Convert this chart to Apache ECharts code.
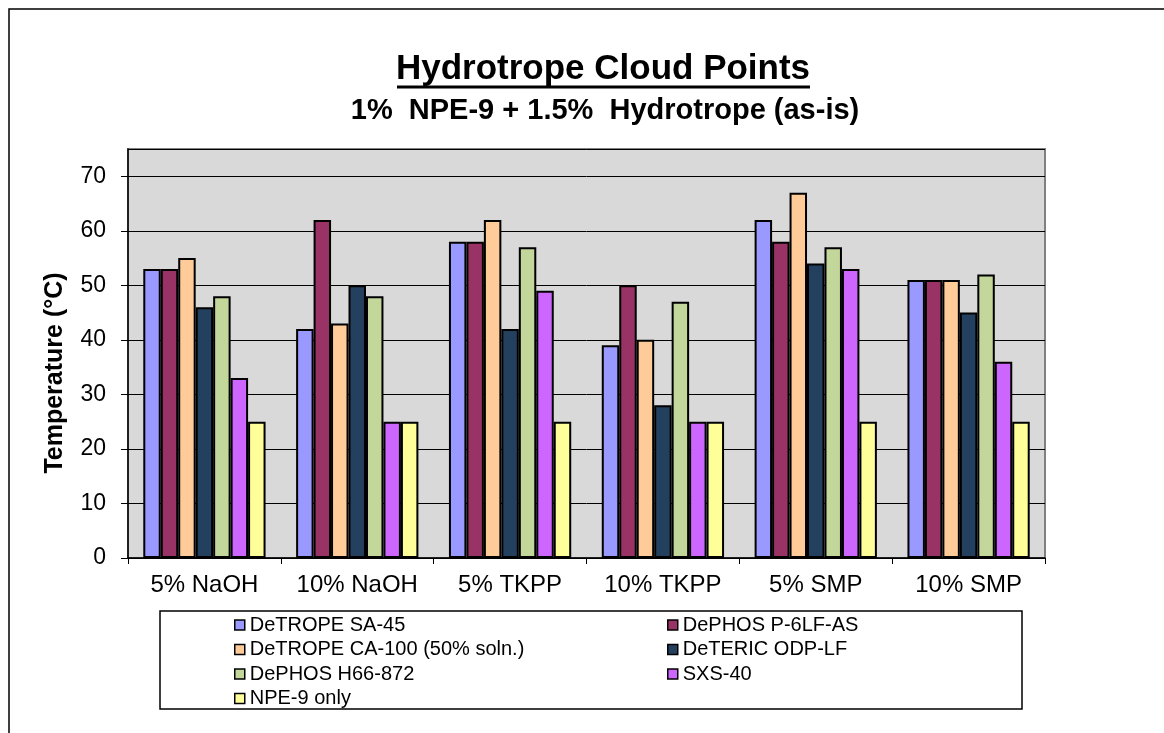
<!DOCTYPE html>
<html>
<head>
<meta charset="utf-8">
<script src="https://cdn.jsdelivr.net/npm/echarts@6/dist/echarts.min.js"></script>
<style>
  html, body { margin: 0; padding: 0; background: #fff; }
  #chart { width: 1164px; height: 733px; }
</style>
</head>
<body>
<div id="chart"></div>
<script>
var categories = ['5% NaOH', '10% NaOH', '5% TKPP', '10% TKPP', '5% SMP', '10% SMP'];

var seriesNames = ['DeTROPE SA-45', 'DePHOS P-6LF-AS', 'DeTROPE CA-100 (50% soln.)', 'DeTERIC ODP-LF',
                   'DePHOS H66-872', 'SXS-40', 'NPE-9 only'];

var sa45    = [53, 42, 58, 39, 62, 51];
var p6lf    = [53, 62, 58, 50, 58, 51];
var ca100   = [55, 43, 62, 40, 67, 51];
var odp     = [46, 50, 42, 28, 54, 45];
var h66     = [48, 48, 57, 47, 57, 52];
var sxs40   = [33, 25, 49, 25, 53, 36];
var npe9    = [25, 25, 25, 25, 25, 25];

var colors = ['#9999ff', '#993366', '#ffcc99', '#24405f', '#c4d79b', '#cc66ff', '#ffff99'];
var values = [sa45, p6lf, ca100, odp, h66, sxs40, npe9];

var series = [];
for (var i = 0; i < values.length; i++) {
  series.push({
    name: seriesNames[i],
    type: 'bar',
    data: values[i],
    barGap: 0,
    barCategoryGap: '20%',
    itemStyle: { color: colors[i], borderColor: '#000', borderWidth: 2 }
  });
}

var font = '"Liberation Sans", Arial, sans-serif';

// legend, two columns
var legendText = { fontFamily: font, fontSize: 20, color: '#000', lineHeight: 24 };
var legendCommon = {
  orient: 'vertical', top: 613, padding: 0, itemWidth: 10, itemHeight: 10, itemGap: 0.5,
  icon: 'rect', textStyle: legendText,
  itemStyle: { borderColor: '#000', borderWidth: 1.5 }
};

var option = {
  animation: false,
  color: colors,
  textStyle: { fontFamily: font },
  grid: {
    left: 128, top: 149, right: 119, bottom: 175,
    show: true, backgroundColor: '#d9d9d9', borderColor: '#808080', borderWidth: 2
  },
  legend: [
    Object.assign({ left: 234, data: [seriesNames[0], seriesNames[2], seriesNames[4], seriesNames[6]] }, legendCommon),
    Object.assign({ left: 667, data: [seriesNames[1], seriesNames[3], seriesNames[5]] }, legendCommon)
  ],
  xAxis: {
    type: 'category',
    data: categories,
    axisLine: { lineStyle: { color: '#000', width: 1.5 } },
    axisTick: { show: true, interval: 0, length: 6, lineStyle: { color: '#000' } },
    axisLabel: { interval: 0, fontFamily: font, fontSize: 24, color: '#000', margin: 15 }
  },
  yAxis: {
    type: 'value',
    min: 0, max: 75, interval: 10,
    axisLine: { show: true, lineStyle: { color: '#000', width: 1.5 } },
    axisTick: { show: true, length: 7, lineStyle: { color: '#000' } },
    axisLabel: { fontFamily: font, fontSize: 23, color: '#000', margin: 22, showMaxLabel: false },
    splitLine: { lineStyle: { color: '#000', width: 1 } }
  },
  graphic: [
    { type: 'rect', shape: { x: 9, y: 9, width: 1300, height: 900 },
      style: { fill: 'none', stroke: '#000', lineWidth: 1.5 }, silent: true },
    { type: 'text', x: 603, y: 69,
      style: { text: 'Hydrotrope Cloud Points', fontFamily: font, fontSize: 35, fontWeight: 'bold',
               fill: '#000', align: 'center', verticalAlign: 'middle' } },
    { type: 'line', shape: { x1: 397, y1: 87, x2: 810, y2: 87 },
      style: { stroke: '#000', lineWidth: 3 } },
    { type: 'text', x: 605, y: 111,
      style: { text: '1%  NPE-9 + 1.5%  Hydrotrope (as-is)', fontFamily: font, fontSize: 29, fontWeight: 'bold',
               fill: '#000', align: 'center', verticalAlign: 'middle' } },
    { type: 'text', x: 55, y: 373, rotation: Math.PI / 2,
      style: { text: 'Temperature (\u00b0C)', fontFamily: font, fontSize: 25, fontWeight: 'bold',
               fill: '#000', align: 'center', verticalAlign: 'middle' } },
    { type: 'rect', shape: { x: 160, y: 611, width: 862, height: 98 },
      style: { fill: 'none', stroke: '#000', lineWidth: 1.5 }, z: -1 }
  ],
  series: series
};

var myChart = echarts.init(document.getElementById('chart'));
myChart.setOption(option);
</script>
</body>
</html>
